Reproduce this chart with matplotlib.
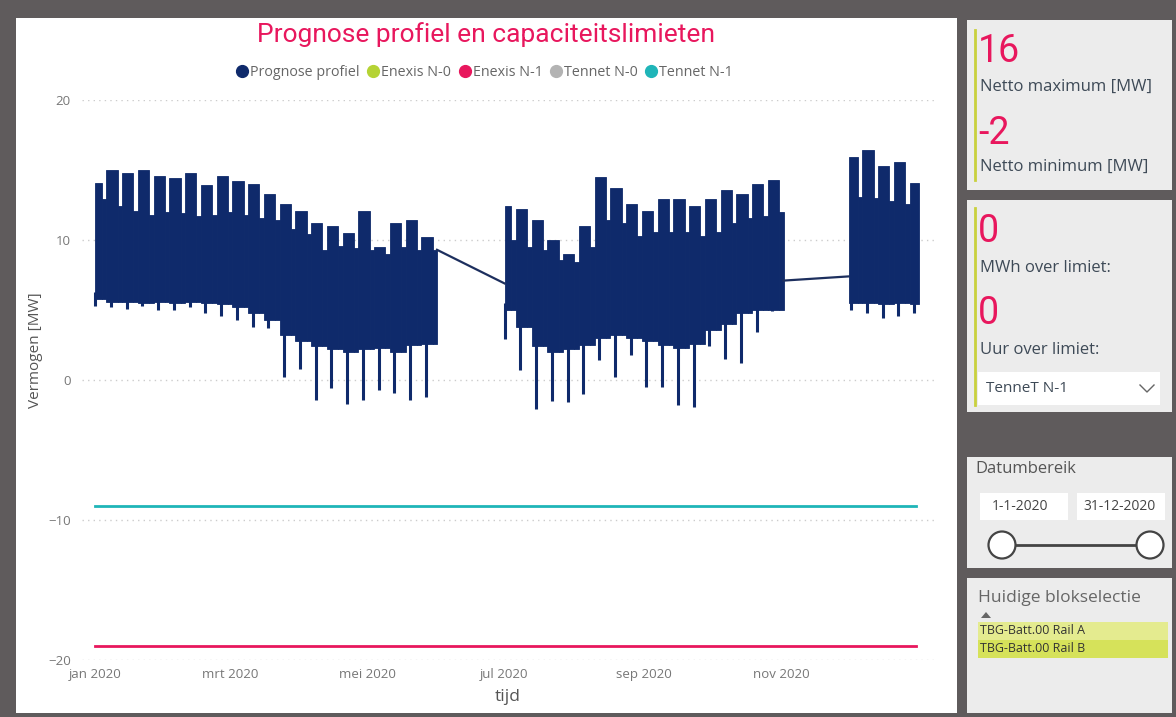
import pandas as pd
import matplotlib
matplotlib.use("Agg")
import matplotlib.pyplot as plt
from matplotlib.patches import Rectangle, Ellipse, Polygon
from matplotlib.lines import Line2D

# ---- data ----
# weekly blocks: week start (monday), weekday peak, weekend peak, body bottom, lowest dip
weeks_1 = pd.date_range("2019-12-30", "2020-05-25", freq="W-MON")
weekday_hi_1 = [14.1, 15.0, 14.8, 15.0, 14.6, 14.4, 14.8, 13.9, 14.6, 14.2, 14.0,
                13.3, 12.6, 12.1, 11.2, 11.0, 10.5, 12.1, 9.5, 11.2, 11.4, 10.2]
weekend_hi_1 = [12.9, 12.4, 12.1, 11.8, 12.0, 11.9, 11.7, 11.8, 12.0, 11.8, 11.6,
                11.4, 10.8, 10.4, 9.3, 9.6, 9.4, 9.3, 9.0, 9.5, 9.3, 9.3]
band_lo_1 = [5.8, 5.6, 5.6, 5.5, 5.6, 5.5, 5.6, 5.5, 5.4, 5.2, 4.8,
             4.3, 3.2, 2.8, 2.4, 2.2, 2.0, 2.2, 2.3, 2.0, 2.5, 2.6]
spike_lo_1 = [5.3, 5.2, 5.1, 5.3, 5.0, 5.0, 5.2, 4.8, 4.6, 4.3, 3.8,
              3.7, 0.2, 0.8, -1.4, -0.6, -1.7, -1.4, -0.7, -0.9, -1.4, -1.2]

weeks_2 = pd.date_range("2020-06-29", "2020-10-26", freq="W-MON")
weekday_hi_2 = [12.4, 12.2, 11.4, 10.0, 9.0, 11.0, 14.5, 13.7, 12.6,
                12.1, 12.9, 12.9, 12.4, 12.9, 13.6, 13.3, 14.0, 14.3]
weekend_hi_2 = [10.0, 9.5, 9.3, 8.6, 8.4, 9.5, 11.4, 11.2, 10.3,
                10.6, 10.6, 10.6, 10.3, 10.6, 11.2, 11.6, 11.7, 12.0]
band_lo_2 = [5.0, 3.8, 2.4, 2.0, 2.2, 2.5, 3.0, 3.2, 3.0,
             2.8, 2.5, 2.3, 2.6, 3.6, 4.0, 4.8, 5.0, 5.0]
spike_lo_2 = [2.9, 0.7, -2.1, -1.5, -1.6, -1.0, 1.4, 0.2, 1.8,
              -0.5, -0.5, -1.8, -1.9, 2.4, 1.5, 1.2, 3.4, 4.9]

weeks_3 = pd.date_range("2020-11-30", "2020-12-28", freq="W-MON")
weekday_hi_3 = [15.9, 16.4, 15.3, 15.6, 14.1]
weekend_hi_3 = [13.1, 13.0, 12.8, 12.6, 12.5]
band_lo_3 = [5.5, 5.5, 5.4, 5.5, 5.4]
spike_lo_3 = [5.0, 4.8, 4.4, 4.6, 4.8]

segments = [("2020-01-01", "2020-06-01"), ("2020-07-01", "2020-11-02"), ("2020-12-01", "2021-01-01")]

# straight line pieces where no profile data exists
bridge_dates = [["2020-06-01", "2020-07-01"], ["2020-11-02", "2020-12-01"]]
bridge_vals = [[9.3, 6.9], [7.1, 7.4]]

# capacity limits
limit_names = ["Enexis N-1", "Tennet N-1"]
limit_vals = [-19, -9]

legend_names = ["Prognose profiel", "Enexis N-0", "Enexis N-1", "Tennet N-0", "Tennet N-1"]
tick_dates = ["2020-01-01", "2020-03-01", "2020-05-01", "2020-07-01", "2020-09-01", "2020-11-01"]
tick_labels = ["jan 2020", "mrt 2020", "mei 2020", "jul 2020", "sep 2020", "nov 2020"]

# ---- styling ----
NAVY = "#0f2a6b"
PINK = "#e8175d"
colors = {"Prognose profiel": NAVY, "Enexis N-0": "#b5d334", "Enexis N-1": PINK,
          "Tennet N-0": "#b3b3b3", "Tennet N-1": "#1fb5b8"}
FRAME = "#5f5b5c"
PANEL = "#ececec"
TXT = "#3e4a57"

plt.rcParams["font.family"] = ["Open Sans", "DejaVu Sans"]

W, H = 1176, 717
fig = plt.figure(figsize=(W / 100, H / 100), dpi=100)
fig.patch.set_facecolor(FRAME)


def fx(x):
    return x / W


def fy(y):
    return 1 - y / H


def rect(x0, y0, x1, y1, color, z=1):
    fig.add_artist(Rectangle((fx(x0), fy(y1)), fx(x1) - fx(x0), fy(y0) - fy(y1),
                             transform=fig.transFigure, facecolor=color, edgecolor="none", zorder=z))


def vline(x, y0, y1, color, lw=2):
    fig.add_artist(Line2D([fx(x), fx(x)], [fy(y0), fy(y1)], transform=fig.transFigure, color=color, lw=lw))


# main white panel (behind the axes)
rect(16, 18, 957, 713, "white", z=-5)

# ---- main chart ----
ax = fig.add_axes([fx(82), fy(660), fx(935) - fx(82), fy(100) - fy(660)])
ax.patch.set_alpha(0)
for s in ax.spines.values():
    s.set_visible(False)


def draw_segment(weeks, hi_wd, hi_we, lo, spk, start, end):
    start, end = pd.Timestamp(start), pd.Timestamp(end)
    for i, ws in enumerate(weeks):
        blocks = [(ws, ws + pd.Timedelta(days=5), hi_wd[i]),
                  (ws + pd.Timedelta(days=5), ws + pd.Timedelta(days=7), hi_we[i])]
        for b0, b1, top in blocks:
            b0, b1 = max(b0, start), min(b1, end)
            if b1 <= b0:
                continue
            ax.bar(b0, top - lo[i], bottom=lo[i], width=(b1 - b0).days, align="edge",
                   color=NAVY, edgecolor=NAVY, linewidth=0.6)
        dip = ws + pd.Timedelta(days=2)
        if start <= dip <= end:
            ax.vlines(dip, spk[i], lo[i] + 0.5, color=NAVY, lw=2.2)


draw_segment(weeks_1, weekday_hi_1, weekend_hi_1, band_lo_1, spike_lo_1, *segments[0])
draw_segment(weeks_2, weekday_hi_2, weekend_hi_2, band_lo_2, spike_lo_2, *segments[1])
draw_segment(weeks_3, weekday_hi_3, weekend_hi_3, band_lo_3, spike_lo_3, *segments[2])

for d, v in zip(bridge_dates, bridge_vals):
    ax.plot(pd.to_datetime(d), v, color="#1d2f5e", lw=1.6)

for name, v in zip(limit_names, limit_vals):
    ax.plot(pd.to_datetime(["2020-01-01", "2020-12-31"]), [v, v], color=colors[name], lw=2)

ax.set_ylim(-20, 20)
ax.set_yticks([-20, -10, 0, 10, 20])
ax.set_xlim(pd.Timestamp("2020-01-01") - pd.Timedelta(days=13 / 2.25),
            pd.Timestamp("2020-01-01") + pd.Timedelta(days=840 / 2.25))
ax.set_xticks(pd.to_datetime(tick_dates))
ax.set_xticklabels(tick_labels)
ax.tick_params(axis="both", length=0, labelsize=9.5, labelcolor="#777777")
ax.tick_params(axis="x", pad=6)
ax.tick_params(axis="y", pad=8)
ax.grid(axis="y", color="#cccccc", linestyle=(0, (1, 3)), lw=1)
ax.set_axisbelow(True)
ax.set_xlabel("tijd", fontsize=12.5, color="#555555")
ax.xaxis.set_label_coords((508 - 82) / 853, -(689 - 660) / 560)
ax.set_ylabel("Vermogen [MW]", fontsize=11, color="#555555")
ax.yaxis.set_label_coords((43 - 82) / 853, (660 - 350) / 560)

# title + legend
fig.text(fx(486), fy(35), "Prognose profiel en capaciteitslimieten", color=PINK,
         fontsize=19, ha="center", va="center", family=["Roboto", "DejaVu Sans"])
handles = [Line2D([], [], marker="o", ls="none", color=colors[n], markersize=8.5) for n in legend_names]
fig.legend(handles, legend_names, loc="center", bbox_to_anchor=(fx(484), fy(73)), ncol=5,
           frameon=False, fontsize=10.3, labelcolor="#666666", handletextpad=0.05,
           columnspacing=0.45, handlelength=1.0)

# ---- right side cards ----
rect(967, 20, 1172, 190, PANEL)
rect(967, 200, 1172, 412, PANEL)
rect(967, 457, 1172, 568, PANEL)
rect(967, 578, 1172, 713, PANEL)
vline(975, 30, 180, "#c9d13e")
vline(975, 208, 405, "#c9d13e")

big = dict(color=PINK, fontsize=27, va="center", ha="left", family=["Roboto", "DejaVu Sans"])
lab = dict(color=TXT, fontsize=12, va="center", ha="left")
fig.text(fx(978), fy(51), "16", **big)
fig.text(fx(980), fy(87), "Netto maximum [MW]", **lab)
fig.text(fx(978), fy(133), "-2", **big)
fig.text(fx(980), fy(167), "Netto minimum [MW]", **lab)
fig.text(fx(978), fy(232), "0", **big)
fig.text(fx(980), fy(268), "MWh over limiet:", **lab)
fig.text(fx(978), fy(314), "0", **big)
fig.text(fx(980), fy(350), "Uur over limiet:", **lab)

rect(978, 372, 1160, 405, "white")
fig.text(fx(986), fy(389), "TenneT N-1", color=TXT, fontsize=11, va="center", ha="left")
fig.add_artist(Line2D([fx(1140), fx(1147), fx(1154)], [fy(385), fy(392), fy(385)],
                      transform=fig.transFigure, color="#666666", lw=1))

fig.text(fx(975), fy(469), "Datumbereik", color="#555555", fontsize=12, va="center", ha="left")
rect(980, 493, 1068, 520, "white")
rect(1077, 493, 1165, 520, "white")
fig.text(fx(1020), fy(507), "1-1-2020", color="#444444", fontsize=10, va="center", ha="center")
fig.text(fx(1120), fy(507), "31-12-2020", color="#444444", fontsize=10, va="center", ha="center")
fig.add_artist(Line2D([fx(1002), fx(1150)], [fy(545), fy(545)], transform=fig.transFigure,
                      color="#444444", lw=2))
for cx in (1002, 1150):
    fig.add_artist(Ellipse((fx(cx), fy(545)), 27 / W, 27 / H, transform=fig.transFigure,
                           facecolor="white", edgecolor="#444444", lw=1.6, zorder=3))

fig.text(fx(978), fy(598), "Huidige blokselectie", color="#666666", fontsize=12.5, va="center", ha="left")
fig.add_artist(Polygon([(fx(981), fy(618)), (fx(991), fy(618)), (fx(986), fy(612))],
                       closed=True, transform=fig.transFigure, facecolor="#666666", edgecolor="none"))
rect(978, 622, 1168, 640, "#e4eb8f")
rect(978, 640, 1168, 658, "#d6e25a")
fig.text(fx(980), fy(631), "TBG-Batt.00 Rail A", color="#333333", fontsize=9, va="center", ha="left")
fig.text(fx(980), fy(649), "TBG-Batt.00 Rail B", color="#333333", fontsize=9, va="center", ha="left")

fig.savefig("out.png", dpi=100, facecolor=fig.get_facecolor())
